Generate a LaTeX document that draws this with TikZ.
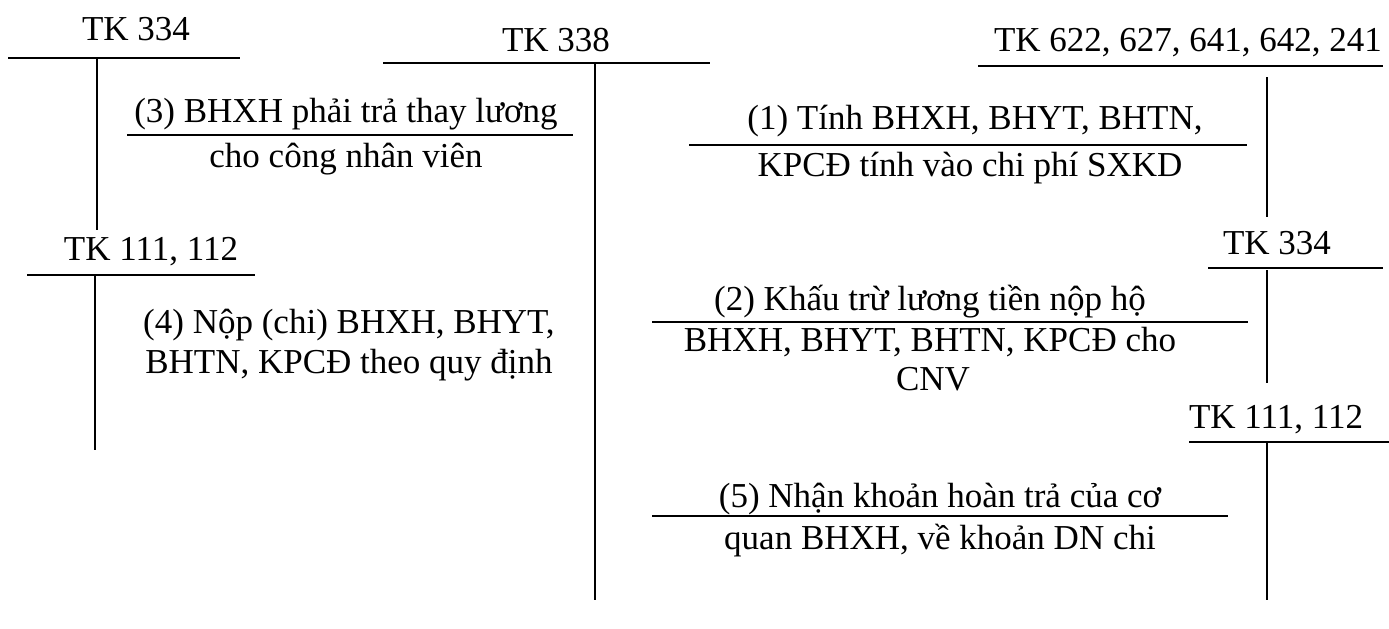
\documentclass[tikz,border=0pt]{standalone}
\usepackage{fontspec}
\setmainfont{Liberation Serif}
\begin{document}
\begin{tikzpicture}[x=0.5pt,y=-0.5pt,
  lbl/.style={font=\fontsize{17.5}{20}\selectfont, anchor=base, inner sep=0pt},
  rule/.style={line width=1.3pt}]
\useasboundingbox (0,0) rectangle (1389,628);

% ---- T-account TK 334 (left)
\node[lbl] (a334) at (136,40) {TK 334};
\coordinate (a334l) at (8,58);   \coordinate (a334r) at (240,58);
\coordinate (a334t) at (97,58);  \coordinate (a334b) at (97,230);
\draw[rule] (a334l) -- (a334r);
\draw[rule] (a334t) -- (a334b);

% ---- T-account TK 111, 112 (left)
\node[lbl] (a111) at (151,260) {TK 111, 112};
\coordinate (a111l) at (27,275);  \coordinate (a111r) at (255,275);
\coordinate (a111t) at (95,275);  \coordinate (a111b) at (95,450);
\draw[rule] (a111l) -- (a111r);
\draw[rule] (a111t) -- (a111b);

% ---- entry (3)
\node[lbl] (e3a) at (346,122) {(3) BHXH phải trả thay lương};
\coordinate (e3l) at (127,135); \coordinate (e3r) at (573,135);
\draw[rule] (e3l) -- (e3r);
\node[lbl] (e3b) at (346,167) {cho công nhân viên};

% ---- entry (4)
\node[lbl] (e4a) at (349,333) {(4) Nộp (chi) BHXH, BHYT,};
\node[lbl] (e4b) at (349,373) {BHTN, KPCĐ theo quy định};

% ---- T-account TK 338
\node[lbl] (a338) at (556,51) {TK 338};
\coordinate (a338l) at (383,63);  \coordinate (a338r) at (710,63);
\coordinate (a338t) at (595,63);  \coordinate (a338b) at (595,600);
\draw[rule] (a338l) -- (a338r);
\draw[rule] (a338t) -- (a338b);

% ---- T-account TK 622, 627, 641, 642, 241
\node[lbl] (a622) at (1188,51) {TK 622, 627, 641, 642, 241};
\coordinate (a622l) at (978,66);  \coordinate (a622r) at (1383,66);
\coordinate (a622t) at (1267,77); \coordinate (a622b) at (1267,217);
\draw[rule] (a622l) -- (a622r);
\draw[rule] (a622t) -- (a622b);

% ---- entry (1)
\node[lbl] (e1a) at (975,129) {(1) Tính BHXH, BHYT, BHTN,};
\coordinate (e1l) at (689,145); \coordinate (e1r) at (1247,145);
\draw[rule] (e1l) -- (e1r);
\node[lbl] (e1b) at (970,176) {KPCĐ tính vào chi phí SXKD};

% ---- T-account TK 334 (right)
\node[lbl] (b334) at (1277,254) {TK 334};
\coordinate (b334l) at (1208,268); \coordinate (b334r) at (1383,268);
\coordinate (b334t) at (1267,270); \coordinate (b334b) at (1267,383);
\draw[rule] (b334l) -- (b334r);
\draw[rule] (b334t) -- (b334b);

% ---- entry (2)
\node[lbl] (e2a) at (930,310) {(2) Khấu trừ lương tiền nộp hộ};
\coordinate (e2l) at (652,322); \coordinate (e2r) at (1248,322);
\draw[rule] (e2l) -- (e2r);
\node[lbl] (e2b) at (930,351) {BHXH, BHYT, BHTN, KPCĐ cho};
\node[lbl] (e2c) at (933,390) {CNV};

% ---- T-account TK 111, 112 (right)
\node[lbl] (b111) at (1276,428) {TK 111, 112};
\coordinate (b111l) at (1189,442); \coordinate (b111r) at (1389,442);
\coordinate (b111t) at (1267,442); \coordinate (b111b) at (1267,600);
\draw[rule] (b111l) -- (b111r);
\draw[rule] (b111t) -- (b111b);

% ---- entry (5)
\node[lbl] (e5a) at (940,507) {(5) Nhận khoản hoàn trả của cơ};
\coordinate (e5l) at (652,516); \coordinate (e5r) at (1228,516);
\draw[rule] (e5l) -- (e5r);
\node[lbl] (e5b) at (940,549) {quan BHXH, về khoản DN chi};
\end{tikzpicture}
\end{document}
